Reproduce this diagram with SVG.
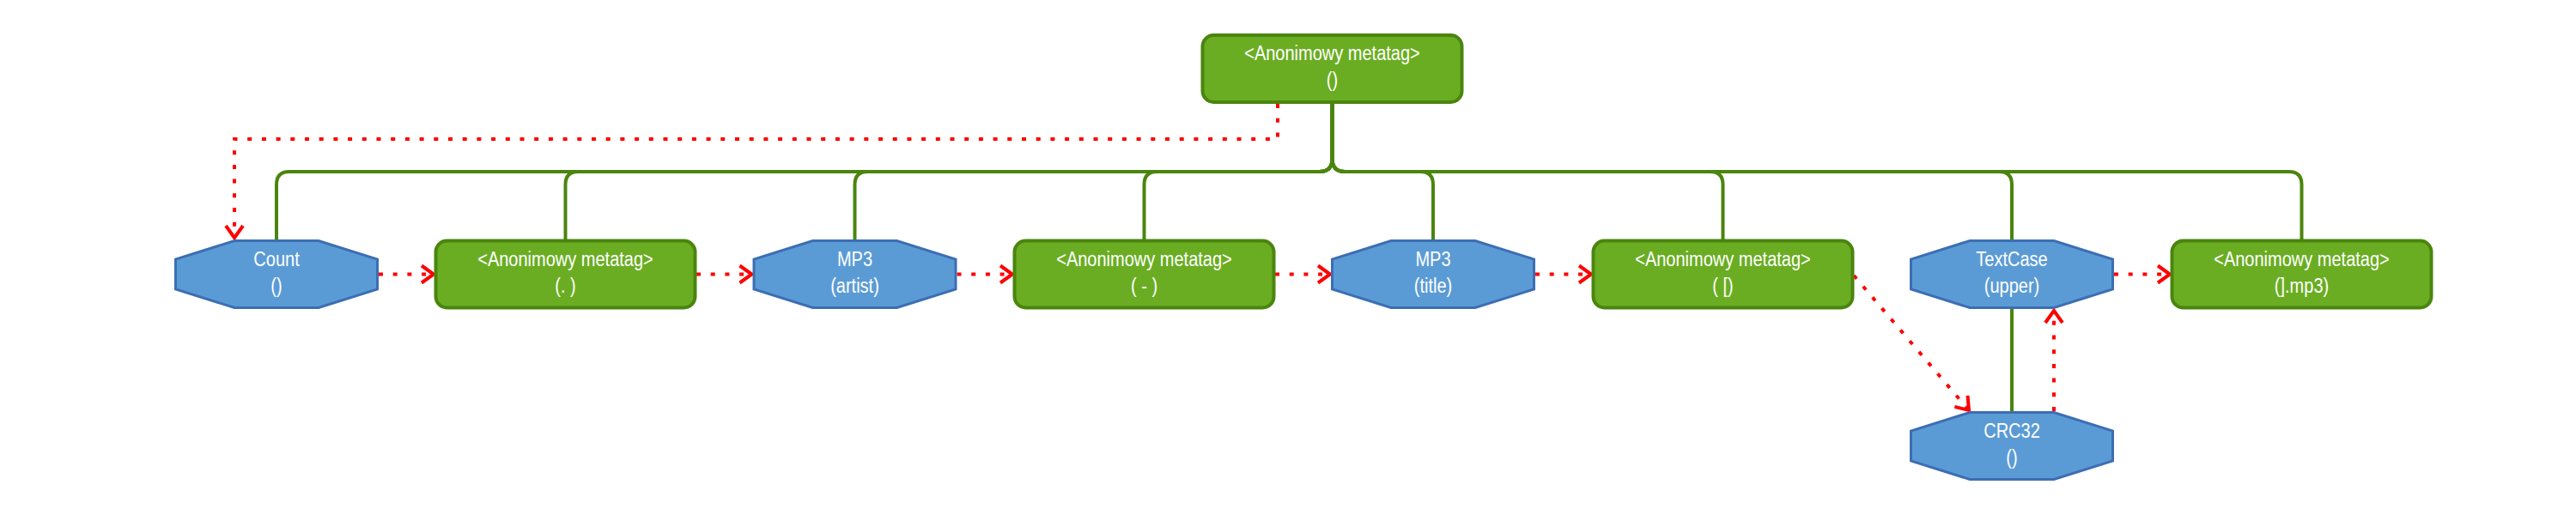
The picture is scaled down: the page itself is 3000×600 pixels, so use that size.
<svg xmlns="http://www.w3.org/2000/svg" xmlns:xlink="http://www.w3.org/1999/xlink" width="3000" height="600" viewBox="0 0 3000 600">
<style>
.g{fill:#6aad22;stroke:#4a850e;stroke-width:4}
.o{fill:#5b9bd5;stroke:#3c6eb4;stroke-width:3}
.t{font-family:"Liberation Sans",Arial,sans-serif;font-size:23px;fill:#ffffff;text-anchor:middle;white-space:pre}
.tree{fill:none;stroke:#4a850e;stroke-width:4}
.dot{fill:none;stroke:#ff0000;stroke-width:4;stroke-dasharray:5 11.7;marker-end:url(#arr)}
</style>
<defs>
<polygon id="oct" class="o" points="-49,-39 49,-39 117.5,-17.5 117.5,17.5 49,39 -49,39 -117.5,17.5 -117.5,-17.5"/>
<rect id="grn" class="g" x="-151" y="-39" width="302" height="78" rx="13" ry="13"/>
<marker id="arr" markerUnits="userSpaceOnUse" viewBox="-20 -15 30 30" markerWidth="30" markerHeight="30" refX="0" refY="0" orient="auto" overflow="visible">
<path d="M-14,-10 L0,0 L-14,10" fill="none" stroke="#ff0000" stroke-width="4" stroke-dasharray="none"/>
</marker>
</defs>
<rect width="3000" height="600" fill="#ffffff"/>
<g id="connectors">
<path class="tree" d="M1551.5,121 V185 Q1551.5,200 1536.5,200 H337 Q322,200 322,215 V280"/>
<path class="tree" d="M1551.5,121 V185 Q1551.5,200 1536.5,200 H673.5 Q658.5,200 658.5,215 V280"/>
<path class="tree" d="M1551.5,121 V185 Q1551.5,200 1536.5,200 H1010.5 Q995.5,200 995.5,215 V280"/>
<path class="tree" d="M1551.5,121 V185 Q1551.5,200 1536.5,200 H1347.5 Q1332.5,200 1332.5,215 V280"/>
<path class="tree" d="M1551.5,121 V185 Q1551.5,200 1566.5,200 H1654 Q1669,200 1669,215 V280"/>
<path class="tree" d="M1551.5,121 V185 Q1551.5,200 1566.5,200 H1991.5 Q2006.5,200 2006.5,215 V280"/>
<path class="tree" d="M1551.5,121 V185 Q1551.5,200 1566.5,200 H2328 Q2343,200 2343,215 V280"/>
<path class="tree" d="M1551.5,121 V185 Q1551.5,200 1566.5,200 H2665.5 Q2680.5,200 2680.5,215 V280"/>
<path class="tree" d="M2343,359 V480"/>
<path class="dot" d="M1488,121 V162 H273 V277"/>
<path class="dot" d="M441,319.5 H505"/>
<path class="dot" d="M811,319.5 H875.5"/>
<path class="dot" d="M1114.5,319.5 H1179"/>
<path class="dot" d="M1485,319.5 H1549"/>
<path class="dot" d="M1788,319.5 H1853"/>
<path class="dot" d="M2159,321 L2293,478"/>
<path class="dot" d="M2392,479 V362"/>
<path class="dot" d="M2462,319.5 H2527"/>
</g>
<g id="n_root" transform="translate(1551.5,80)"><use xlink:href="#grn"/><text class="t" transform="scale(0.87,1)"><tspan x="0" y="-10">&lt;Anonimowy metatag&gt;</tspan><tspan x="0" y="21">()</tspan></text></g>
<g id="n_count" transform="translate(322,319.5)"><use xlink:href="#oct"/><text class="t" transform="scale(0.87,1)"><tspan x="0" y="-10">Count</tspan><tspan x="0" y="21">()</tspan></text></g>
<g id="n_meta1" transform="translate(658.5,319.5)"><use xlink:href="#grn"/><text class="t" transform="scale(0.87,1)"><tspan x="0" y="-10">&lt;Anonimowy metatag&gt;</tspan><tspan x="0" y="21">(. )</tspan></text></g>
<g id="n_artist" transform="translate(995.5,319.5)"><use xlink:href="#oct"/><text class="t" transform="scale(0.87,1)"><tspan x="0" y="-10">MP3</tspan><tspan x="0" y="21">(artist)</tspan></text></g>
<g id="n_meta2" transform="translate(1332.5,319.5)"><use xlink:href="#grn"/><text class="t" transform="scale(0.87,1)"><tspan x="0" y="-10">&lt;Anonimowy metatag&gt;</tspan><tspan x="0" y="21">( - )</tspan></text></g>
<g id="n_title" transform="translate(1669,319.5)"><use xlink:href="#oct"/><text class="t" transform="scale(0.87,1)"><tspan x="0" y="-10">MP3</tspan><tspan x="0" y="21">(title)</tspan></text></g>
<g id="n_meta3" transform="translate(2006.5,319.5)"><use xlink:href="#grn"/><text class="t" transform="scale(0.87,1)"><tspan x="0" y="-10">&lt;Anonimowy metatag&gt;</tspan><tspan x="0" y="21">( [)</tspan></text></g>
<g id="n_textcase" transform="translate(2343,319.5)"><use xlink:href="#oct"/><text class="t" transform="scale(0.87,1)"><tspan x="0" y="-10">TextCase</tspan><tspan x="0" y="21">(upper)</tspan></text></g>
<g id="n_meta4" transform="translate(2680.5,319.5)"><use xlink:href="#grn"/><text class="t" transform="scale(0.87,1)"><tspan x="0" y="-10">&lt;Anonimowy metatag&gt;</tspan><tspan x="0" y="21">(].mp3)</tspan></text></g>
<g id="n_crc32" transform="translate(2343,519.5)"><use xlink:href="#oct"/><text class="t" transform="scale(0.87,1)"><tspan x="0" y="-10">CRC32</tspan><tspan x="0" y="21">()</tspan></text></g>
</svg>
